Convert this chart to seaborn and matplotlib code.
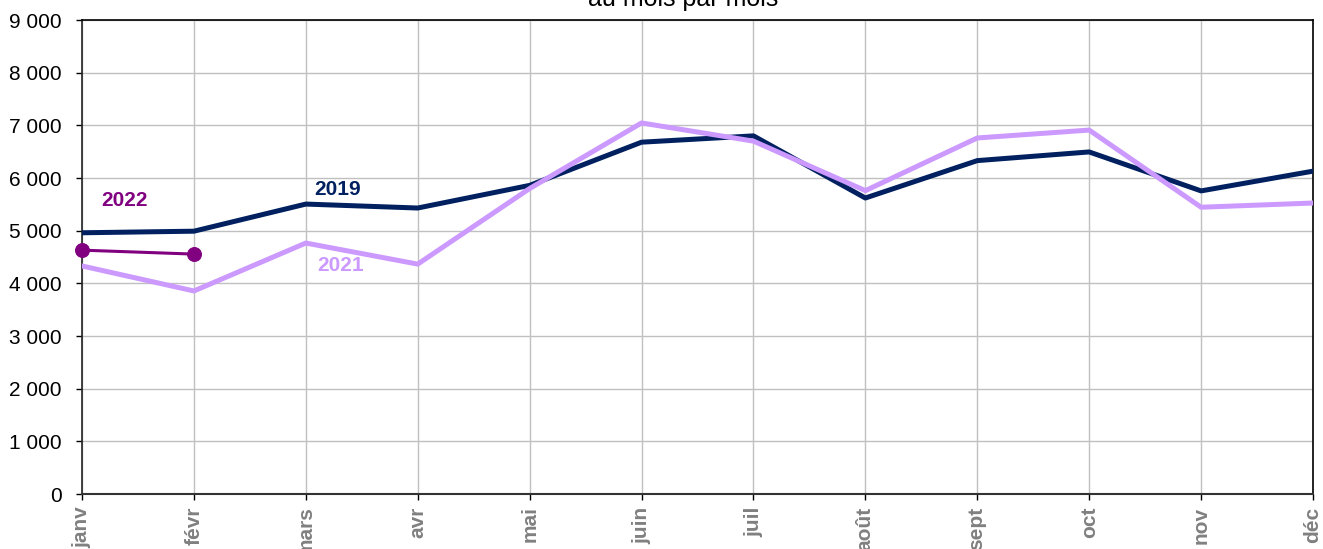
import matplotlib
matplotlib.use("Agg")
import matplotlib.pyplot as plt
import seaborn as sns
import pandas as pd
from matplotlib.ticker import FuncFormatter, MultipleLocator

months = ["janv", "févr", "mars", "avr", "mai", "juin", "juil", "août", "sept", "oct", "nov", "déc"]
v2019 = [4960, 4990, 5505, 5430, 5860, 6680, 6800, 5620, 6330, 6495, 5755, 6130]
v2021 = [4330, 3855, 4765, 4365, 5800, 7045, 6700, 5760, 6760, 6910, 5445, 5525]
v2022 = [4630, 4555]

sns.set_theme(style="white")
plt.rcParams['font.family'] = ['Liberation Sans', 'DejaVu Sans']

fig = plt.figure(figsize=(13.23, 5.49), dpi=100)
ax = fig.add_axes([82/1323, 55/549, (1313-82)/1323, (494-20)/549])

d19 = pd.DataFrame({"x": range(12), "y": v2019})
d21 = pd.DataFrame({"x": range(12), "y": v2021})
d22 = pd.DataFrame({"x": range(len(v2022)), "y": v2022})

sns.lineplot(data=d19, x="x", y="y", ax=ax, color="#002060", linewidth=3.6, zorder=3)
sns.lineplot(data=d21, x="x", y="y", ax=ax, color="#CC99FF", linewidth=3.6, zorder=4)
sns.lineplot(data=d22, x="x", y="y", ax=ax, color="#800080", linewidth=2.2, marker="o",
             markersize=10, markeredgecolor="#800080", zorder=5, clip_on=False)

ax.set_xlim(0, 11)
ax.set_ylim(0, 9000)
ax.yaxis.set_major_locator(MultipleLocator(1000))
ax.yaxis.set_major_formatter(FuncFormatter(lambda v, p: f"{int(v):,}".replace(",", " ")))
ax.set_xticks(range(12))
ax.set_xticklabels(months, rotation=90, fontweight="bold", color="#808080", fontsize=15)
ax.tick_params(axis="y", labelsize=15, labelcolor="black", length=4.5, width=1, color="black", direction="out", left=True, pad=10)
ax.tick_params(axis="x", length=4, width=1, color="black", direction="out", bottom=True, pad=5)
ax.set_xlabel("")
ax.set_ylabel("")
ax.grid(True, color="#C0C0C0", linewidth=1)
ax.set_axisbelow(True)
for s in ax.spines.values():
    s.set_visible(True)
    s.set_color("black")
    s.set_linewidth(1.2)
ax.spines["left"].set_color("#222222")
ax.spines["bottom"].set_color("#333333")
ax.spines["bottom"].set_linewidth(1.5)

ax.text(0.38, 5580, "2022", color="#800080", fontweight="bold", fontsize=15, ha="center", va="center")
ax.text(2.28, 5790, "2019", color="#002060", fontweight="bold", fontsize=15, ha="center", va="center")
ax.text(2.31, 4330, "2021", color="#CC99FF", fontweight="bold", fontsize=15, ha="center", va="center")

fig.text(683/1323, 1 - 6/549, "au mois par mois", ha="center", va="baseline", fontsize=18, color="black")

fig.savefig("out.png", dpi=100)
